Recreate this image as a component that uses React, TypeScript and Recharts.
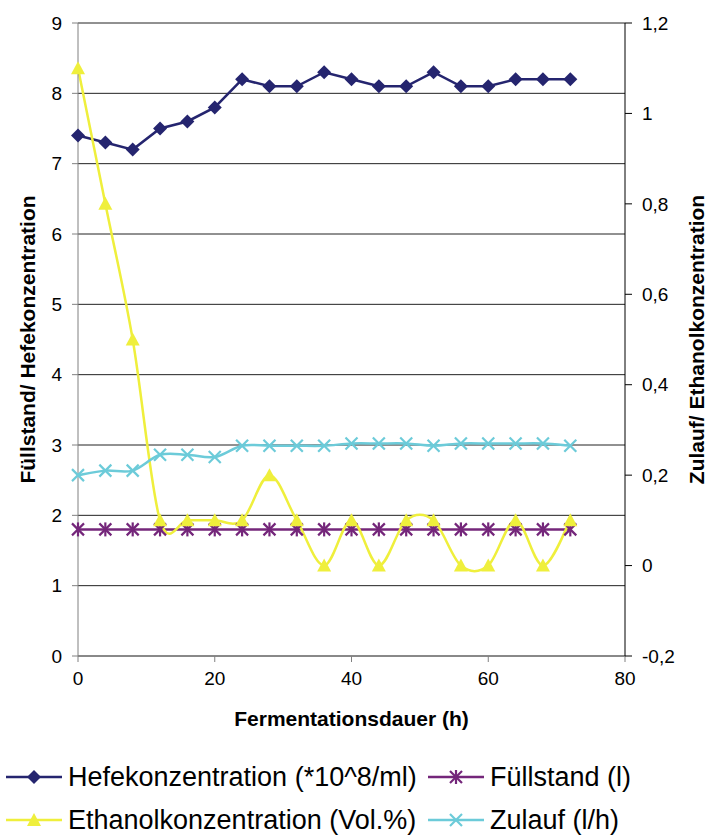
import React from "react";
import {
  LineChart,
  Line,
  XAxis,
  YAxis,
  CartesianGrid,
} from "recharts";

// Fermentation time (h)
const hours = [0, 4, 8, 12, 16, 20, 24, 28, 32, 36, 40, 44, 48, 52, 56, 60, 64, 68, 72];
// left axis
const hefe = [7.4, 7.3, 7.2, 7.5, 7.6, 7.8, 8.2, 8.1, 8.1, 8.3, 8.2, 8.1, 8.1, 8.3, 8.1, 8.1, 8.2, 8.2, 8.2];
const fuellstand = [1.8, 1.8, 1.8, 1.8, 1.8, 1.8, 1.8, 1.8, 1.8, 1.8, 1.8, 1.8, 1.8, 1.8, 1.8, 1.8, 1.8, 1.8, 1.8];
// right axis
const ethanol = [1.1, 0.8, 0.5, 0.1, 0.1, 0.1, 0.1, 0.2, 0.1, 0, 0.1, 0, 0.1, 0.1, 0, 0, 0.1, 0, 0.1];
const zulauf = [0.2, 0.21, 0.21, 0.245, 0.245, 0.24, 0.265, 0.265, 0.265, 0.265, 0.27, 0.27, 0.27, 0.265, 0.27, 0.27, 0.27, 0.27, 0.265];

const xTicks = [0, 20, 40, 60, 80];
const leftTicks = [0, 1, 2, 3, 4, 5, 6, 7, 8, 9];
const rightTicks = [-0.2, 0, 0.2, 0.4, 0.6, 0.8, 1, 1.2];

const data = hours.map((h, i) => ({
  h,
  hefe: hefe[i],
  fuell: fuellstand[i],
  ethanol: ethanol[i],
  zulauf: zulauf[i],
}));

const NAVY = "#25256f";
const PURPLE = "#74267a";
const YELLOW = "#efef3c";
const CYAN = "#6ccbd9";
const FONT = "'Liberation Sans', Arial, sans-serif";

// excel-ish smoothed line (catmull-rom through the points)
const smooth: any = (ctx: any) => {
  let pts: number[][] = [];
  return {
    areaStart() {},
    areaEnd() {},
    lineStart() {
      pts = [];
    },
    point(x: number, y: number) {
      pts.push([+x, +y]);
    },
    lineEnd() {
      if (!pts.length) return;
      ctx.moveTo(pts[0][0], pts[0][1]);
      for (let i = 0; i < pts.length - 1; i++) {
        const p0 = pts[i - 1] || pts[i];
        const p1 = pts[i];
        const p2 = pts[i + 1];
        const p3 = pts[i + 2] || p2;
        ctx.bezierCurveTo(
          p1[0] + (p2[0] - p0[0]) / 6,
          p1[1] + (p2[1] - p0[1]) / 6,
          p2[0] - (p3[0] - p1[0]) / 6,
          p2[1] - (p3[1] - p1[1]) / 6,
          p2[0],
          p2[1]
        );
      }
    },
  };
};

const Diamond = (cx: number, cy: number, s = 7) => (
  <path d={`M${cx},${cy - s}L${cx + s},${cy}L${cx},${cy + s}L${cx - s},${cy}Z`} fill={NAVY} />
);
const Star = (cx: number, cy: number, s = 6) => (
  <g stroke={PURPLE} strokeWidth={2.2}>
    <line x1={cx - s} y1={cy - s} x2={cx + s} y2={cy + s} />
    <line x1={cx - s} y1={cy + s} x2={cx + s} y2={cy - s} />
    <line x1={cx} y1={cy - s - 1} x2={cx} y2={cy + s + 1} />
  </g>
);
const Tri = (cx: number, cy: number, s = 7) => (
  <path d={`M${cx},${cy - s}L${cx + s},${cy + s - 1}L${cx - s},${cy + s - 1}Z`} fill={YELLOW} />
);
const Cross = (cx: number, cy: number, s = 6) => (
  <g stroke={CYAN} strokeWidth={2.2}>
    <line x1={cx - s} y1={cy - s} x2={cx + s} y2={cy + s} />
    <line x1={cx - s} y1={cy + s} x2={cx + s} y2={cy - s} />
  </g>
);

const dot = (fn: any) => (p: any) => <g key={p.index}>{fn(p.cx, p.cy)}</g>;

const fmt = (v: number) => String(Math.round(v * 10) / 10).replace(".", ",");

const tickStyle = { fontSize: 19, fill: "#000", fontFamily: FONT };

const legendItems = [
  { name: "Hefekonzentration (*10^8/ml)", color: NAVY, m: Diamond, x: 6, y: 777 },
  { name: "Füllstand (l)", color: PURPLE, m: Star, x: 428, y: 777 },
  { name: "Ethanolkonzentration (Vol.%)", color: YELLOW, m: Tri, x: 6, y: 820 },
  { name: "Zulauf (l/h)", color: CYAN, m: Cross, x: 428, y: 820 },
];

const axisTitle = (text: string, dx: number) => ({ viewBox }: any) => (
  <text
    transform={`translate(${viewBox.x + dx},${viewBox.y + viewBox.height / 2}) rotate(-90)`}
    textAnchor="middle"
    dominantBaseline="central"
    fontFamily={FONT}
    fontWeight="bold"
    fontSize={21}
  >
    {text}
  </text>
);

export default function App() {
  return (
    <div style={{ position: "absolute", left: 0, top: 0, width: 707, height: 835, background: "#fff" }}>
      <LineChart
        width={707}
        height={740}
        data={data}
        margin={{ top: 23, right: 25, left: 18, bottom: 14 }}
      >
        <CartesianGrid yAxisId="left" vertical={false} stroke="#222" strokeWidth={1} />
        <XAxis
          dataKey="h"
          type="number"
          domain={[0, 80]}
          ticks={xTicks}
          height={70}
          stroke="#808080"
          tickSize={6}
          tickMargin={10}
          tick={tickStyle}
          label={{
            content: ({ viewBox }: any) => (
              <text
                x={viewBox.x + viewBox.width / 2}
                y={viewBox.y + 62}
                textAnchor="middle"
                dominantBaseline="central"
                fontFamily={FONT}
                fontWeight="bold"
                fontSize={21}
              >
                Fermentationsdauer (h)
              </text>
            ),
          }}
        />
        <YAxis
          yAxisId="left"
          domain={[0, 9]}
          ticks={leftTicks}
          width={60}
          stroke="#808080"
          tickSize={6}
          tickMargin={10}
          tick={tickStyle}
          label={{ content: axisTitle("Füllstand/ Hefekonzentration", 9) }}
        />
        <YAxis
          yAxisId="right"
          orientation="right"
          domain={[-0.2, 1.2]}
          ticks={rightTicks}
          tickFormatter={fmt}
          width={57}
          stroke="#000"
          tickSize={7}
          tickMargin={10}
          tick={tickStyle}
          label={{ content: axisTitle("Zulauf/ Ethanolkonzentration", 71) }}
        />
        <Line
          yAxisId="left"
          dataKey="hefe"
          type="linear"
          stroke={NAVY}
          strokeWidth={2.5}
          dot={dot(Diamond)}
          isAnimationActive={false}
        />
        <Line
          yAxisId="left"
          dataKey="fuell"
          type="linear"
          stroke={PURPLE}
          strokeWidth={2.5}
          dot={dot(Star)}
          isAnimationActive={false}
        />
        <Line
          yAxisId="right"
          dataKey="ethanol"
          type={smooth}
          stroke={YELLOW}
          strokeWidth={2.5}
          dot={dot(Tri)}
          isAnimationActive={false}
        />
        <Line
          yAxisId="right"
          dataKey="zulauf"
          type={smooth}
          stroke={CYAN}
          strokeWidth={2.5}
          dot={dot(Cross)}
          isAnimationActive={false}
        />
      </LineChart>
      <svg width={707} height={95} style={{ position: "absolute", left: 0, top: 740 }}>
        {legendItems.map((it) => (
          <g key={it.name} transform={`translate(0,-740)`}>
            <line x1={it.x} x2={it.x + 56} y1={it.y} y2={it.y} stroke={it.color} strokeWidth={2.5} />
            {it.m(it.x + 28, it.y)}
            <text
              x={it.x + 62}
              y={it.y}
              dominantBaseline="central"
              fontFamily={FONT}
              fontSize={27}
              fill="#000"
            >
              {it.name}
            </text>
          </g>
        ))}
      </svg>
    </div>
  );
}
